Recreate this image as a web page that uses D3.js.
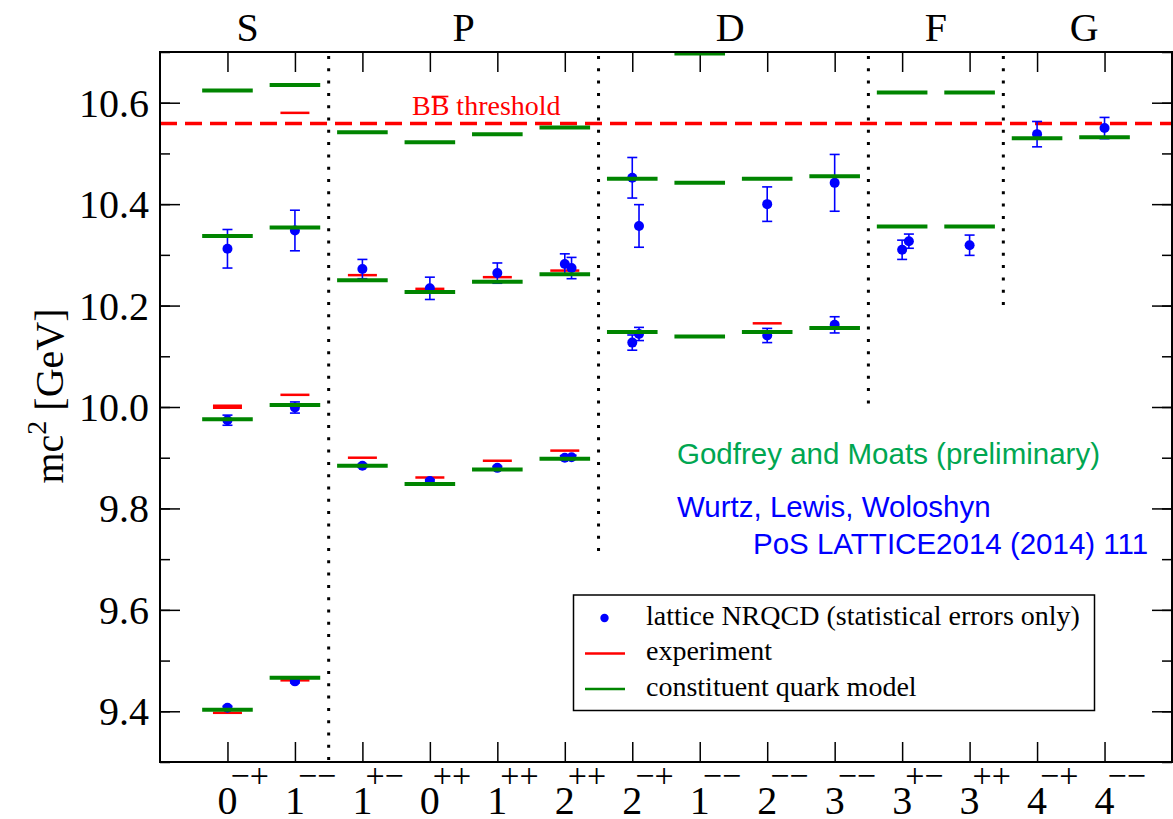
<!DOCTYPE html>
<html>
<head>
<meta charset="utf-8">
<script src="https://cdn.jsdelivr.net/npm/d3@7"></script>
<style>
  body { margin: 0; background: #fff; }
  svg { display: block; }
</style>
</head>
<body>
<div id="chart"></div>
<script>
// quantum numbers J^PC along the x axis (positions 1..14)
const jLabels = ["0", "1", "1", "0", "1", "2", "2", "1", "2", "3", "3", "3", "4", "4"];
const pcLabels = ["−+", "−−", "+−", "++", "++", "++", "−+", "−−", "−−", "−−", "+−", "++", "−+", "−−"];

// orbital wave groups
const waves = ["S", "P", "D", "F", "G"];
const wavePos = [1.3, 4.5, 8.45, 11.5, 13.7];
const waveSepX = [2.5, 6.5, 10.5, 12.5];
const waveSepBottom = [9.3, 9.7, 10.0, 10.2];

const bbThreshold = 10.559;

// constituent quark model (Godfrey & Moats), per J^PC column
const quarkModel = [
  [9.403, 9.976, 10.337, 10.624],
  [9.466, 10.004, 10.354, 10.635],
  [9.884, 10.250, 10.542],
  [9.848, 10.227, 10.522],
  [9.877, 10.247, 10.538],
  [9.898, 10.262, 10.551],
  [10.148, 10.450],
  [10.139, 10.442, 10.697],
  [10.148, 10.450],
  [10.156, 10.455],
  [10.356, 10.620],
  [10.356, 10.620],
  [10.530],
  [10.532],
];

// experiment, per J^PC column
const experiment = [
  [9.397, 9.9985, 10.0025],
  [9.461, 10.024, 10.580],
  [9.900, 10.260],
  [9.861, 10.233],
  [9.894, 10.256],
  [9.914, 10.269],
  [],
  [],
  [10.165],
  [],
  [],
  [],
  [],
  [],
];

// lattice NRQCD points
const latticeCol = [1, 1, 1, 2, 2, 2, 3, 3, 4, 4, 5, 5, 6, 6, 6, 6, 7, 7, 7, 7, 9, 9, 10, 10, 11, 11, 12, 13, 14];
const latticeShift = [0, 0, 0, 0, 0, 0, 0, 0, 0, 0, 0, 0, 0, 0.1, 0, 0.1, 0, 0.1, 0, 0.1, 0, 0, 0, 0, 0, 0.1, 0, 0, 0];
const latticeMass = [9.407, 9.974, 10.312, 9.459, 9.999, 10.348, 9.884, 10.272, 9.854, 10.234, 9.880, 10.264,
  9.900, 9.901, 10.282, 10.274, 10.127, 10.144, 10.452, 10.357, 10.141, 10.400, 10.162, 10.442,
  10.310, 10.327, 10.319, 10.538, 10.550];
const latticeErr = [0.003, 0.010, 0.038, 0.003, 0.011, 0.040, 0.003, 0.019, 0.003, 0.022, 0.003, 0.020,
  0.004, 0.004, 0.020, 0.021, 0.015, 0.013, 0.040, 0.042, 0.014, 0.034, 0.016, 0.056,
  0.019, 0.014, 0.020, 0.025, 0.021];

const width = 1173, height = 819;
const margin = { top: 52, right: 1, bottom: 57, left: 160 };
const innerW = width - margin.left - margin.right;
const innerH = height - margin.top - margin.bottom;

const serif = "'Liberation Serif', 'Times New Roman', serif";
const sans = "'Liberation Sans', Arial, sans-serif";
const GREEN = "#008500", RED = "#ff0000", BLUE = "#0000ff";

const svg = d3.select("#chart").append("svg")
  .attr("width", width)
  .attr("height", height)
  .style("font-family", serif);

const x = d3.scaleLinear().domain([0, 15]).range([margin.left, margin.left + innerW]);
const y = d3.scaleLinear().domain([9.3, 10.7]).range([margin.top + innerH, margin.top]);

// axes (ticks pointing inward)
const majorY = d3.range(9.4, 10.61, 0.2);
const minorY = d3.range(9.3, 10.71, 0.1);
const xTicks = d3.range(1, 15);

const axes = svg.append("g").attr("class", "axes");
function styleAxis(g) {
  g.select(".domain").remove();
  g.selectAll(".tick line").attr("stroke", "#000").attr("stroke-width", 1.5);
  g.selectAll(".tick text").remove();
}
axes.append("g").attr("transform", `translate(0,${y(9.3)})`)
  .call(d3.axisBottom(x).tickValues(xTicks).tickSize(-20)).call(styleAxis);
axes.append("g").attr("transform", `translate(0,${y(10.7)})`)
  .call(d3.axisTop(x).tickValues(xTicks).tickSize(-20)).call(styleAxis);
axes.append("g").attr("transform", `translate(${x(0)},0)`)
  .call(d3.axisLeft(y).tickValues(minorY).tickSize(-10)).call(styleAxis);
axes.append("g").attr("transform", `translate(${x(0)},0)`)
  .call(d3.axisLeft(y).tickValues(majorY).tickSize(-20)).call(styleAxis);
axes.append("g").attr("transform", `translate(${x(15)},0)`)
  .call(d3.axisRight(y).tickValues(minorY).tickSize(-10)).call(styleAxis);
axes.append("g").attr("transform", `translate(${x(15)},0)`)
  .call(d3.axisRight(y).tickValues(majorY).tickSize(-20)).call(styleAxis);

// y tick labels
svg.append("g").selectAll("text")
  .data(majorY)
  .join("text")
  .attr("x", x(0) - 11)
  .attr("y", (d) => y(d))
  .attr("dy", "0.35em")
  .attr("text-anchor", "end")
  .style("font-size", "40px")
  .text((d) => d3.format(".1f")(d));

// x tick labels: J with PC superscript
const xl = svg.append("g").selectAll("g")
  .data(jLabels)
  .join("g");
xl.append("text")
  .attr("x", (d, i) => x(i + 1))
  .attr("y", 814)
  .attr("text-anchor", "middle")
  .style("font-size", "40px")
  .text((d) => d);
xl.append("text")
  .attr("x", (d, i) => x(i + 1) + 3)
  .attr("y", 787)
  .style("font-size", "34px")
  .text((d, i) => pcLabels[i]);

// y label
svg.append("text")
  .attr("transform", `translate(63,396) rotate(-90)`)
  .attr("text-anchor", "middle")
  .style("font-size", "40px")
  .call((t) => {
    t.append("tspan").text("mc");
    t.append("tspan").attr("dy", "-0.6em").style("font-size", "28px").text("2");
    t.append("tspan").attr("dy", "0.42em").text(" [GeV]");
  });

// wave headings
svg.append("g").selectAll("text")
  .data(waves)
  .join("text")
  .attr("x", (d, i) => x(wavePos[i]))
  .attr("y", 41)
  .attr("text-anchor", "middle")
  .style("font-size", "40px")
  .text((d) => d);

// dotted separators
svg.append("g").selectAll("line")
  .data(waveSepX)
  .join("line")
  .attr("x1", (d) => x(d))
  .attr("x2", (d) => x(d))
  .attr("y1", y(10.7) + 4)
  .attr("y2", (d, i) => y(waveSepBottom[i]))
  .attr("stroke", "#000")
  .attr("stroke-width", 3)
  .attr("stroke-dasharray", "3,9.3");

// threshold
svg.append("line")
  .attr("x1", x(0)).attr("x2", x(15))
  .attr("y1", y(bbThreshold)).attr("y2", y(bbThreshold))
  .attr("stroke", RED)
  .attr("stroke-width", 3.5)
  .attr("stroke-dasharray", "17,8");

const thrX = 412;
const thr = svg.append("text")
  .attr("x", thrX)
  .attr("y", 115)
  .attr("fill", RED)
  .style("font-size", "28px")
  .text("BB threshold");
// overline on the second B
let b1 = 18.7, b2 = 37.3;
try {
  const n = thr.node();
  const l1 = n.getSubStringLength(0, 1), l2 = n.getSubStringLength(0, 2);
  if (l1 > 0 && l2 > l1) { b1 = l1; b2 = l2; }
} catch (e) { /* keep estimate */ }
svg.append("line")
  .attr("x1", thrX + b1 + 1).attr("x2", thrX + b2 - 1)
  .attr("y1", 96.5).attr("y2", 96.5)
  .attr("stroke", RED).attr("stroke-width", 1.6);

// experiment levels
const expFlat = experiment.flatMap((vals, i) => vals.map((v) => ({ col: i + 1, v })));
svg.append("g").selectAll("line")
  .data(expFlat)
  .join("line")
  .attr("x1", (d) => x(d.col - 0.215))
  .attr("x2", (d) => x(d.col + 0.215))
  .attr("y1", (d) => y(d.v))
  .attr("y2", (d) => y(d.v))
  .attr("stroke", RED)
  .attr("stroke-width", 2.5);

// lattice points with error bars
const lat = latticeMass.map((m, i) => ({
  px: latticeCol[i] + latticeShift[i],
  m,
  e: latticeErr[i],
}));
const lg = svg.append("g").selectAll("g")
  .data(lat)
  .join("g")
  .attr("stroke", BLUE)
  .attr("stroke-width", 1.6);
lg.append("line")
  .attr("x1", (d) => x(d.px)).attr("x2", (d) => x(d.px))
  .attr("y1", (d) => y(d.m - d.e)).attr("y2", (d) => y(d.m + d.e));
lg.append("line")
  .attr("x1", (d) => x(d.px) - 5).attr("x2", (d) => x(d.px) + 5)
  .attr("y1", (d) => y(d.m + d.e)).attr("y2", (d) => y(d.m + d.e));
lg.append("line")
  .attr("x1", (d) => x(d.px) - 5).attr("x2", (d) => x(d.px) + 5)
  .attr("y1", (d) => y(d.m - d.e)).attr("y2", (d) => y(d.m - d.e));
lg.append("circle")
  .attr("cx", (d) => x(d.px))
  .attr("cy", (d) => y(d.m))
  .attr("r", 5)
  .attr("fill", BLUE)
  .attr("stroke", "none");

// quark model levels
const modelFlat = quarkModel.flatMap((vals, i) => vals.map((v) => ({ col: i + 1, v })));
svg.append("g").selectAll("line")
  .data(modelFlat)
  .join("line")
  .attr("x1", (d) => x(d.col - 0.375))
  .attr("x2", (d) => x(d.col + 0.375))
  .attr("y1", (d) => y(d.v))
  .attr("y2", (d) => y(d.v))
  .attr("stroke", GREEN)
  .attr("stroke-width", 4);

// annotations
svg.append("text")
  .attr("x", 677).attr("y", 464)
  .attr("fill", "#00a651")
  .style("font-family", sans)
  .style("font-size", "29.5px")
  .text("Godfrey and Moats (preliminary)");
svg.append("text")
  .attr("x", 677).attr("y", 517)
  .attr("fill", BLUE)
  .style("font-family", sans)
  .style("font-size", "29.5px")
  .text("Wurtz, Lewis, Woloshyn");
svg.append("text")
  .attr("x", 753).attr("y", 554)
  .attr("fill", BLUE)
  .style("font-family", sans)
  .style("font-size", "29.5px")
  .text("PoS LATTICE2014 (2014) 111");

// legend
const legend = svg.append("g");
legend.append("rect")
  .attr("x", 573.5).attr("y", 595)
  .attr("width", 521).attr("height", 115.5)
  .attr("fill", "#fff")
  .attr("stroke", "#000")
  .attr("stroke-width", 1.5);
const legItems = [
  { label: "lattice NRQCD (statistical errors only)", type: "dot", color: BLUE },
  { label: "experiment", type: "line", color: RED },
  { label: "constituent quark model", type: "line", color: GREEN },
];
legItems.forEach((d, i) => {
  const cy = 618 + i * 35.5;
  if (d.type === "dot") {
    legend.append("circle").attr("cx", 604.5).attr("cy", cy).attr("r", 4.2).attr("fill", d.color);
  } else {
    legend.append("line")
      .attr("x1", 585).attr("x2", 625)
      .attr("y1", cy).attr("y2", cy)
      .attr("stroke", d.color).attr("stroke-width", 2.5);
  }
  legend.append("text")
    .attr("x", 646).attr("y", cy + 6.5)
    .style("font-size", "28px")
    .text(d.label);
});

// frame
svg.append("rect")
  .attr("x", x(0)).attr("y", y(10.7))
  .attr("width", x(15) - x(0)).attr("height", y(9.3) - y(10.7))
  .attr("fill", "none")
  .attr("stroke", "#000")
  .attr("stroke-width", 2);
</script>
</body>
</html>
